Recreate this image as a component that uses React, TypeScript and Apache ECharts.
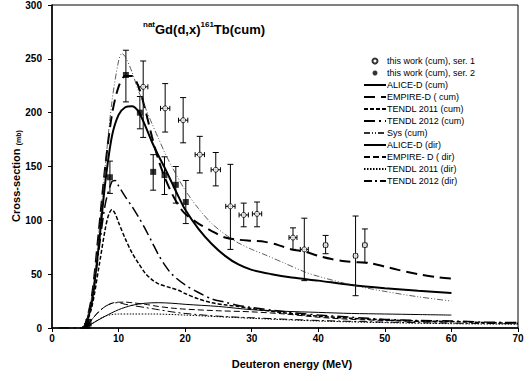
import React, { useEffect, useRef } from "react";
import * as echarts from "echarts";

const xTicks = [0, 10, 20, 30, 40, 50, 60, 70];
const yTicks = [0, 50, 100, 150, 200, 250, 300];

// measured points: [E, sigma, sigmaLow, sigmaHigh, dE]
const ser1 = [
  [13.7, 224, 177, 248, 0.7],
  [17.0, 204, 182, 227, 0.7],
  [19.7, 193, 172, 214, 0.7],
  [22.2, 161, 144, 178, 0.7],
  [24.6, 147, 132, 163, 0.7],
  [26.8, 113, 73, 152, 0.7],
  [28.8, 105, 94, 116, 0.7],
  [30.8, 106, 94, 117, 0.7],
  [36.2, 84, 73, 93, 0.6],
  [37.9, 73, 44, 102, 0.6],
  [41.1, 77, 69, 86, 0.3],
  [45.6, 67, 30, 104, 0.3],
  [47.0, 77, 61, 92, 0.3],
];
const ser2 = [
  [5.3, 2, 0, 4, 0],
  [5.5, 5, 2, 8, 0],
  [8.7, 140, 125, 155, 0],
  [11.1, 235, 210, 258, 0],
  [13.2, 200, 185, 215, 0],
  [15.2, 145, 128, 161, 0],
  [16.9, 142, 124, 159, 0],
  [18.6, 133, 116, 150, 0],
  [20.1, 117, 97, 137, 0],
];

const aliceCum = [[4.5,0],[5,2],[6,25],[7,75],[8,135],[9,178],[10,198],[11,205],[12,206],[13,201],[14,188],[15,173],[16,160],[17,148],[18,135],[19,122],[20,110],[22,92],[24,78],[26,67],[28,59],[30,54],[33,50],[36,47],[40,44],[45,40],[50,37],[55,34.5],[60,32.5]];
const empireCum = [[4.5,0],[5,3],[6,30],[7,88],[8,150],[9,198],[10,224],[11,234],[12,234],[13,224],[14,203],[15,178],[16,156],[17,139],[18,125],[19,114],[20,106],[22,97],[24,90],[26,84],[28,82],[30,81],[32,80],[34,77],[36,73],[38,71],[40,67],[42,64],[44,62],[46,61],[48,60],[50,57],[52,54],[55,50],[58,47],[60,46]];
const tendl11Cum = [[4.5,0],[5,2],[6,20],[7,55],[8,92],[8.5,105],[9,110],[9.5,106],[10,98],[11,83],[12,70],[13,60],[14,51],[15,45],[16,41],[18,37],[19,35],[20,32],[22,27],[24,23.5],[26,21.5],[28,20],[30,18],[35,14],[40,11],[45,9],[50,7.5],[55,6.5],[60,6],[65,5],[70,4.5]];
const tendl12Cum = [[1,0],[4.5,0],[5,2],[6,25],[7,70],[8,115],[9,136],[9.5,137],[10,132],[11,122],[12,113],[13,103],[14,92],[15,80],[16,68],[17,58],[18,50],[20,40],[22,33],[24,27],[26,24],[28,21],[30,19],[35,15],[40,12],[45,10],[50,8],[55,7],[60,6.5],[65,5.5],[70,5]];
const sysCum = [[4.5,0],[5,3],[6,30],[7,85],[8,150],[9,210],[10,248],[10.5,255],[11,252],[12,238],[13,220],[14,205],[15,190],[16,176],[17,162],[18,150],[20,128],[22,111],[24,97],[26,87],[28,79],[30,73],[32,68],[35,60],[38,52],[40,48],[45,40],[50,34],[55,29],[60,25]];
const aliceDir = [[4.5,0],[5,0.5],[6,4],[8,11],[10,17],[12,21],[14,23],[16,23.5],[18,23],[20,22],[25,20],[30,17],[35,15.5],[40,14.5],[45,13.5],[50,13],[55,12.5],[60,12]];
const empireDir = [[4.5,0],[5,1],[6,8],[7,15],[8,20],[9,23],[10,24],[11,24],[12,23.5],[14,22],[16,20],[18,18.5],[20,17.5],[25,16],[30,15],[35,13],[40,10],[45,8],[50,7],[55,6],[60,5.5]];
const tendl11Dir = [[4.5,0],[5,0.5],[6,4],[7,8],[8,11],[9,12.5],[10,13],[12,13],[15,13],[20,12],[25,10.5],[30,9],[40,6.5],[50,5],[60,4],[70,3.5]];
const tendl12Dir = [[4.5,0],[5,1],[6,8],[7,15],[8,20],[9,23],[10,23.5],[11,22],[12,21],[14,19],[16,17],[18,15],[20,13.5],[25,11],[30,9.5],[40,7],[50,5.5],[60,4.5],[70,4]];

const FONT = "Arial, 'Liberation Sans', sans-serif";

function lineSeries(name: string, data: number[][], width: number, type: any, color = "#000") {
  return {
    name,
    type: "line",
    data,
    symbol: "none",
    smooth: 0.3,
    lineStyle: { color, width, type },
    itemStyle: { color },
    z: 3,
  };
}

function errSeries(data: number[][]) {
  return {
    type: "custom",
    data,
    encode: { x: 0, y: 1 },
    z: 2,
    silent: true,
    renderItem: (params: any, api: any) => {
      const x = api.value(0), y = api.value(1), lo = api.value(2), hi = api.value(3), xe = api.value(4);
      const pLo = api.coord([x, lo]);
      const pHi = api.coord([x, hi]);
      const st = { stroke: "#000", lineWidth: 1 };
      const children: any[] = [
        { type: "line", shape: { x1: pLo[0], y1: pLo[1], x2: pHi[0], y2: pHi[1] }, style: st },
        { type: "line", shape: { x1: pLo[0] - 3, y1: pLo[1], x2: pLo[0] + 3, y2: pLo[1] }, style: st },
        { type: "line", shape: { x1: pHi[0] - 3, y1: pHi[1], x2: pHi[0] + 3, y2: pHi[1] }, style: st },
      ];
      if (xe > 0) {
        const pL = api.coord([x - xe, y]);
        const pR = api.coord([x + xe, y]);
        children.push(
          { type: "line", shape: { x1: pL[0], y1: pL[1], x2: pR[0], y2: pR[1] }, style: st },
          { type: "line", shape: { x1: pL[0], y1: pL[1] - 2.5, x2: pL[0], y2: pL[1] + 2.5 }, style: st },
          { type: "line", shape: { x1: pR[0], y1: pR[1] - 2.5, x2: pR[0], y2: pR[1] + 2.5 }, style: st }
        );
      }
      return { type: "group", children };
    },
  };
}

export default function App() {
  const ref = useRef<HTMLDivElement>(null);
  useEffect(() => {
    if (!ref.current) return;
    const chart = echarts.init(ref.current, null, { renderer: "svg" });
    const names = [
      "this work (cum), ser. 1",
      "this work (cum), ser. 2",
      "ALICE-D (cum)",
      "EMPIRE-D ( cum)",
      "TENDL 2011 (cum)",
      "TENDL 2012 (cum)",
      "Sys (cum)",
      "ALICE-D (dir)",
      "EMPIRE- D ( dir)",
      "TENDL 2011 (dir)",
      "TENDL 2012 (dir)",
    ];
    const legendData = names.map((n, i) => {
      if (i === 0) return { name: n, icon: "circle" };
      if (i === 1) return { name: n, icon: "circle" };
      return { name: n, itemStyle: { opacity: 0 } };
    });
    chart.setOption({
      animation: false,
      backgroundColor: "#fff",
      grid: { left: 52, right: 11, top: 4, bottom: 53, show: true, borderColor: "#000", borderWidth: 1 },
      xAxis: {
        type: "value",
        min: xTicks[0],
        max: xTicks[xTicks.length - 1],
        interval: 10,
        axisLine: { lineStyle: { color: "#000", width: 1.5 } },
        axisTick: { show: true, length: 4, lineStyle: { color: "#000", width: 1 } },
        axisLabel: { color: "#000", fontSize: 10, fontWeight: "bold", fontFamily: FONT, margin: 5 },
        splitLine: { show: false },
      },
      yAxis: {
        type: "value",
        min: yTicks[0],
        max: yTicks[yTicks.length - 1],
        interval: 50,
        axisLine: { show: true, lineStyle: { color: "#000", width: 1.5 } },
        axisTick: { show: true, length: 4, lineStyle: { color: "#000", width: 1 } },
        axisLabel: { color: "#000", fontSize: 10, fontWeight: "bold", fontFamily: FONT, margin: 10 },
        splitLine: { show: false },
      },
      legend: {
        data: legendData,
        orient: "vertical",
        left: 363,
        top: 56,
        padding: 0,
        itemWidth: 22,
        itemHeight: 5,
        itemGap: 2,
        selectedMode: false,
        textStyle: { fontSize: 9, fontFamily: FONT, color: "#000", lineHeight: 10, padding: [0, 0, 0, -4] },
      },
      graphic: [
        {
          type: "text",
          left: 143,
          top: 20,
          style: {
            text: "{s|nat}{m|Gd(d,x)}{s|161}{m|Tb(cum)}",
            rich: {
              s: { fontSize: 8, fontWeight: "bold", fontFamily: FONT, fill: "#000", lineHeight: 8, verticalAlign: "top" },
              m: { fontSize: 13, fontWeight: "bold", fontFamily: FONT, fill: "#000", lineHeight: 16, verticalAlign: "bottom" },
            },
          },
        },
        {
          type: "text",
          x: 15,
          y: 176,
          rotation: Math.PI / 2,
          style: {
            text: "{a|Cross-section} {b|(mb)}",
            textAlign: "center",
            textVerticalAlign: "middle",
            rich: {
              a: { fontSize: 11, fontWeight: "bold", fontFamily: FONT, fill: "#000", lineHeight: 13, verticalAlign: "bottom" },
              b: { fontSize: 7, fontWeight: "bold", fontFamily: FONT, fill: "#000", lineHeight: 10, verticalAlign: "bottom" },
            },
          },
        },
        {
          type: "text",
          x: 292,
          y: 364,
          style: {
            text: "Deuteron energy (MeV)",
            textAlign: "center",
            textVerticalAlign: "middle",
            fontSize: 11,
            fontWeight: "bold",
            fontFamily: FONT,
            fill: "#000",
          },
        },
      ],
      series: [
        errSeries(ser1),
        errSeries(ser2),
        {
          name: names[0],
          type: "scatter",
          data: ser1.map((d) => [d[0], d[1]]),
          symbol: "circle",
          symbolSize: 5,
          itemStyle: { color: "#fff", borderColor: "#000", borderWidth: 1 },
          z: 5,
        },
        {
          name: names[1],
          type: "scatter",
          data: ser2.map((d) => [d[0], d[1]]),
          symbol: "rect",
          symbolSize: 6,
          itemStyle: { color: "#000", borderColor: "#000", borderWidth: 0 },
          z: 5,
        },
        lineSeries(names[2], aliceCum, 2, "solid"),
        lineSeries(names[3], empireCum, 2, [11, 6]),
        lineSeries(names[4], tendl11Cum, 1.5, [4, 2]),
        lineSeries(names[5], tendl12Cum, 1.5, [11, 4, 2, 4]),
        lineSeries(names[6], sysCum, 0.8, [6, 2, 1, 2, 1, 2], "#333"),
        lineSeries(names[7], aliceDir, 1, "solid"),
        lineSeries(names[8], empireDir, 1, [6, 3]),
        lineSeries(names[9], tendl11Dir, 1, [1.5, 1.5]),
        lineSeries(names[10], tendl12Dir, 1, [8, 3, 2, 3]),
      ],
    });
    return () => chart.dispose();
  }, []);
  return <div ref={ref} style={{ width: 529, height: 381, position: "absolute", left: 0, top: 0 }} />;
}
